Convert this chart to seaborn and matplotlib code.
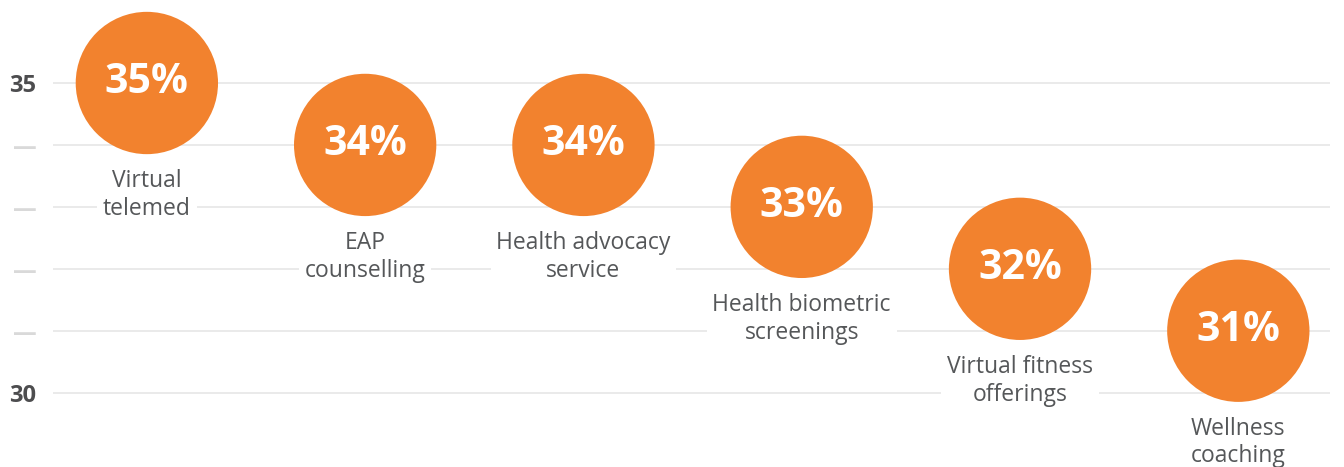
import pandas as pd
import seaborn as sns
import matplotlib.pyplot as plt

# Chart data
categories = ["Virtual\ntelemed", "EAP\ncounselling", "Health advocacy\nservice",
              "Health biometric\nscreenings", "Virtual fitness\nofferings", "Wellness\ncoaching"]
values = [35, 34, 34, 33, 32, 31]
y_ticks = [30, 31, 32, 33, 34, 35]
y_tick_labels = ["30", "\u2014", "\u2014", "\u2014", "\u2014", "35"]

orange = "#F2822E"
grey_text = "#555759"

df = pd.DataFrame({"category": categories, "value": values})

sns.set_style("white")
plt.rcParams['font.family'] = ['Open Sans', 'DejaVu Sans']

fig = plt.figure(figsize=(13.44, 4.67), dpi=100)
ax = fig.add_axes([53 / 1344, 0, (1330 - 53) / 1344, 1])

sns.scatterplot(data=df, x="category", y="value", s=10500, color=orange,
                edgecolor="none", ax=ax, zorder=3, legend=False)

# value inside bubble, category label underneath
for i, (cat, val) in enumerate(zip(categories, values)):
    ax.text(i, val, f"{val}%", ha="center", va="center", color="white",
            fontsize=29.5, fontweight="bold", zorder=4)
    ax.annotate(cat, xy=(i, val), xytext=(0, -62), textcoords="offset points",
                ha="center", va="top", fontsize=16.5, color=grey_text,
                linespacing=1.2, zorder=4, annotation_clip=False,
                bbox=dict(boxstyle="square,pad=0.25", fc="white", ec="none"))

ax.set_xlim(-0.43, 5.42)
ax.set_ylim(28.8, 36.34)
ax.set_xticks([])
ax.set_yticks(y_ticks)
ax.set_yticklabels(y_tick_labels)
ax.tick_params(axis="y", length=0, pad=12)
for lab, t in zip(ax.get_yticklabels(), y_tick_labels):
    if t == "\u2014":
        lab.set_color("#d9d9d9")
        lab.set_fontsize(17)
        lab.set_fontweight("bold")
    else:
        lab.set_color("#4d4d4f")
        lab.set_fontsize(17)
        lab.set_fontweight("bold")

ax.grid(axis="y", color="#e6e6e6", linewidth=1.2, zorder=0)
ax.set_axisbelow(True)
ax.set_xlabel("")
ax.set_ylabel("")
sns.despine(ax=ax, left=True, bottom=True)

fig.savefig("out.png", dpi=100)
